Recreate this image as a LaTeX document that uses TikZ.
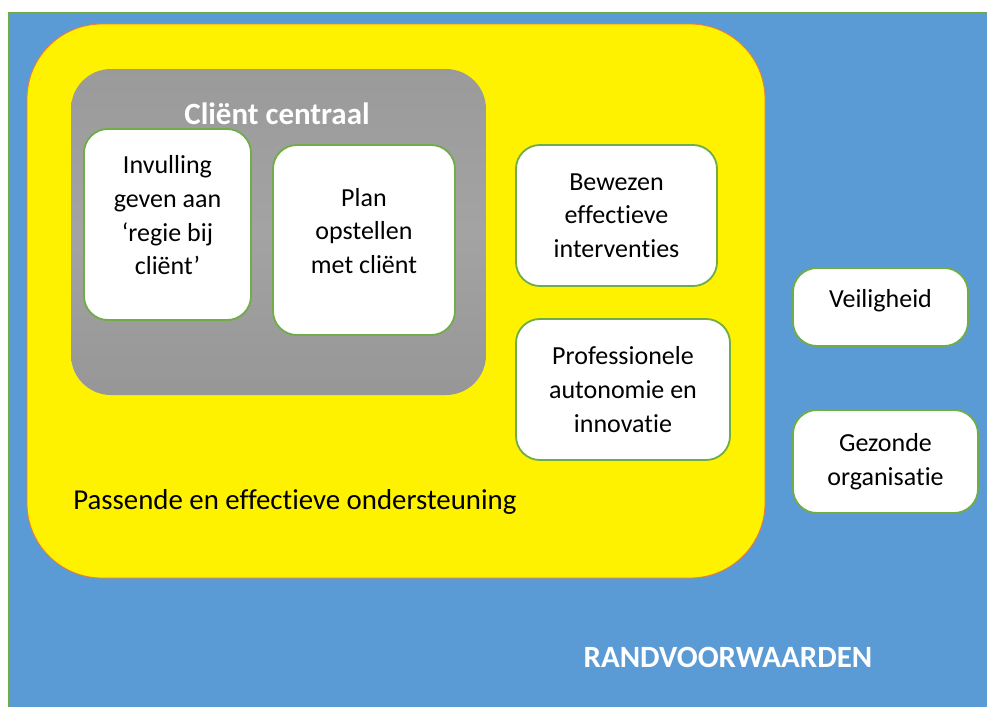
\documentclass[tikz,border=0pt]{standalone}
\usepackage{fontspec}
\setmainfont{Carlito}[Ligatures=NoCommon]
\usepackage{tikz}
\usetikzlibrary{calc}

\definecolor{randblue}{HTML}{5B9BD5}
\definecolor{kadergreen}{HTML}{70AD47}
\definecolor{randorange}{HTML}{ED7D31}

% tekst in een kader iets omhoog zetten (extra diepte onderaan)
\newcommand{\regels}[2]{\begin{tabular}{@{}c@{}}#2\rule[-\dimexpr#1+0.3\baselineskip\relax]{0pt}{0pt}\end{tabular}}

\tikzset{
  kader/.style={draw=kadergreen, line width=1.3pt, fill=white, rounded corners=0.6cm,
    align=center, inner sep=0pt, font=\fontsize{18.5}{24}\selectfont},
  witlabel/.style={text=white, inner sep=0pt, font=\bfseries\fontsize{22}{24}\selectfont}
}

\begin{document}
\begin{tikzpicture}[x=0.025cm, y=-0.025cm]
    \useasboundingbox (0,0) rectangle (987,706);
    \fill[white] (0,0) rectangle (987,706);

    \begin{scope}[line width=0.6pt]
      \draw[fill=randblue, draw=kadergreen] (8,12) rectangle (990,710);
      \draw[fill=yellow, draw=randorange, rounded corners=1.875cm] (27,24) rectangle (765,578);
      \shade[top color=gray!79, bottom color=gray!82, middle color=gray!72, rounded corners=1cm]
        (71,69) rectangle (486,395);
    \end{scope}

    \node[witlabel, anchor=base] (centraal) at (277,124) {Cliënt centraal};

    \node[kader, minimum width=4.175cm, minimum height=4.775cm] (invulling) at (167.5,224.5)
      {\regels{0.6cm}{Invulling\\geven aan\\‘regie bij\\cliënt’}};
    \node[kader, minimum width=4.55cm, minimum height=4.75cm] (plan) at (364,240)
      {\regels{0.6cm}{Plan\\opstellen\\met cliënt}};
    \node[kader, minimum width=5.025cm, minimum height=3.525cm] (bewezen) at (616.5,215.5)
      {Bewezen\\effectieve\\interventies};
    \node[kader, minimum width=5.35cm, minimum height=3.525cm] (professioneel) at (623,389.5)
      {Professionele\\autonomie en\\innovatie};
    \node[kader, minimum width=4.375cm, minimum height=1.95cm] (veiligheid) at (880.5,307)
      {\regels{0.55cm}{Veiligheid}};
    \node[kader, minimum width=4.625cm, minimum height=2.575cm] (gezond) at (885.5,461.5)
      {Gezonde\\organisatie};

    \node[anchor=base west, inner sep=0pt, font=\fontsize{20.5}{24}\selectfont] (passend) at (73,509)
      {Passende en effectieve ondersteuning};
    \node[witlabel, anchor=base] (rand) at (728,667) {RANDVOORWAARDEN};

      % \draw[help lines] (0,0) grid[step=50] (987,706);
\end{tikzpicture}
\end{document}
